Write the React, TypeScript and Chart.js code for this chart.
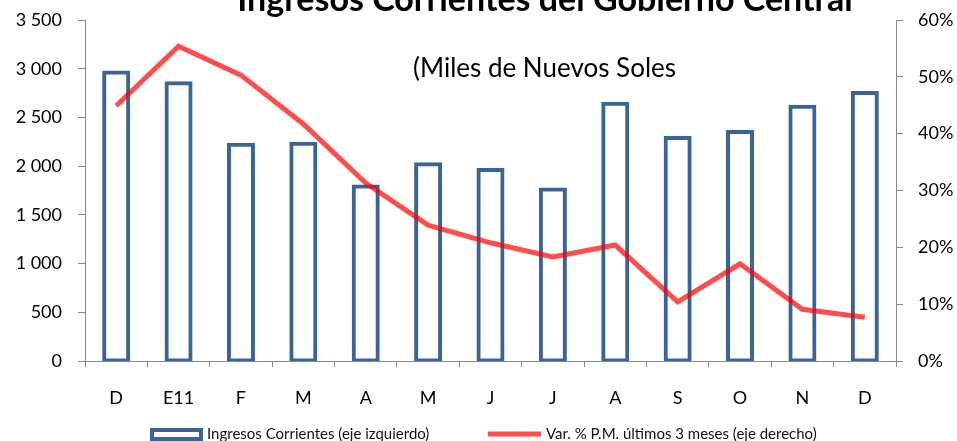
import React, { useEffect, useRef } from "react";
import { Chart, registerables } from "chart.js";

Chart.register(...registerables);

const categories = ["D", "E11", "F", "M", "A", "M", "J", "J", "A", "S", "O", "N", "D"];
const ingresos = [2960, 2850, 2220, 2230, 1790, 2020, 1960, 1760, 2640, 2290, 2350, 2610, 2750];
const variacion = [44.9, 55.4, 50.3, 41.7, 31.3, 23.9, 20.8, 18.3, 20.4, 10.4, 17.1, 9.1, 7.7];
const leftTicks = [0, 500, 1000, 1500, 2000, 2500, 3000, 3500];

const titleText = "Ingresos Corrientes del Gobierno Central";
const subtitleText = "(Miles de Nuevos Soles";
const legendBar = "Ingresos Corrientes (eje izquierdo)";
const legendLine = "Var. % P.M. últimos 3 meses (eje derecho)";

const FONT = "Lato";
const BLUE = "#3A6496";
const RED = "rgba(255,0,0,0.7)";
const AXIS = "#888888";

function fmtThousands(v: number) {
  if (v >= 1000) {
    const t = Math.floor(v / 1000);
    const r = String(v % 1000).padStart(3, "0");
    return `${t} ${r}`;
  }
  return String(v);
}

const textPlugin = {
  id: "textPlugin",
  afterDraw(chart: any) {
    const ctx = chart.ctx as CanvasRenderingContext2D;
    ctx.save();
    ctx.fillStyle = "#000";
    ctx.textBaseline = "alphabetic";
    ctx.textAlign = "center";
    ctx.font = `bold 34px ${FONT}`;
    ctx.fillText(titleText, 545, 11);

    ctx.textAlign = "left";
    ctx.font = `26px ${FONT}`;
    ctx.fillText(subtitleText, 413, 77);

    // legend
    ctx.fillStyle = "#fff";
    ctx.strokeStyle = BLUE;
    ctx.lineWidth = 4;
    ctx.fillRect(152, 430, 49, 9);
    ctx.strokeRect(152, 430, 49, 9);
    ctx.strokeStyle = RED;
    ctx.lineWidth = 5;
    ctx.beginPath();
    ctx.moveTo(488, 434);
    ctx.lineTo(541, 434);
    ctx.stroke();

    ctx.fillStyle = "#111";
    ctx.font = `15px ${FONT}`;
    ctx.fillText(legendBar, 207, 439);
    ctx.fillText(legendLine, 546, 439);
    ctx.restore();
  },
};

const fitY = (w: number) => (s: any) => {
  s.width = w;
  s.paddingTop = 0;
  s.paddingBottom = 0;
};

export default function App() {
  const ref = useRef<HTMLCanvasElement | null>(null);
  useEffect(() => {
    document.body.style.margin = "0";
    const canvas = ref.current!;
    const chart = new Chart(canvas, {
      data: {
        labels: categories,
        datasets: [
          {
            type: "line",
            label: legendLine,
            data: variacion,
            yAxisID: "y1",
            borderColor: RED,
            backgroundColor: RED,
            borderWidth: 5,
            pointRadius: 0,
            tension: 0,
            order: 0,
          },
          {
            type: "bar",
            label: legendBar,
            data: ingresos,
            yAxisID: "y",
            backgroundColor: "#ffffff",
            borderColor: BLUE,
            borderWidth: 4,
            borderSkipped: false,
            inflateAmount: 2,
            categoryPercentage: 1,
            barPercentage: 0.385,
            order: 1,
          },
        ],
      } as any,
      options: {
        responsive: false,
        animation: false,
        layout: { padding: { top: 20, bottom: 0, left: 0, right: 0 } },
        plugins: {
          legend: { display: false },
          tooltip: { enabled: false },
          title: { display: false },
        },
        scales: {
          x: {
            offset: true,
            grid: { display: true, drawOnChartArea: false, drawTicks: true, tickLength: 6, color: AXIS, offset: true },
            border: { display: true, color: AXIS, width: 1 },
            ticks: { color: "#000", font: { family: FONT, size: 18 }, padding: 20, autoSkip: false, maxRotation: 0 },
            afterFit: (s: any) => { s.height = 80; },
          },
          y: {
            position: "left",
            min: 0,
            max: 3500,
            grid: { display: true, drawOnChartArea: false, drawTicks: true, tickLength: 7, color: AXIS },
            border: { display: true, color: AXIS, width: 1 },
            afterBuildTicks: (s: any) => { s.ticks = leftTicks.map((v) => ({ value: v })); },
            ticks: { color: "#000", font: { family: FONT, size: 18 }, padding: 16, callback: (v: any) => fmtThousands(Number(v)) },
            afterFit: fitY(85),
          },
          y1: {
            position: "right",
            min: 0,
            max: 60,
            grid: { display: true, drawOnChartArea: false, drawTicks: true, tickLength: 7, color: AXIS },
            border: { display: true, color: AXIS, width: 1 },
            ticks: { stepSize: 10, color: "#000", font: { family: FONT, size: 18 }, padding: 15, callback: (v: any) => `${v}%` },
            afterFit: fitY(61),
          },
        },
      } as any,
      plugins: [textPlugin],
    });
    return () => chart.destroy();
  }, []);
  return (
    <div style={{ width: 957, height: 441, background: "#fff" }}>
      <canvas ref={ref} width={957} height={441} style={{ display: "block" }} />
    </div>
  );
}
